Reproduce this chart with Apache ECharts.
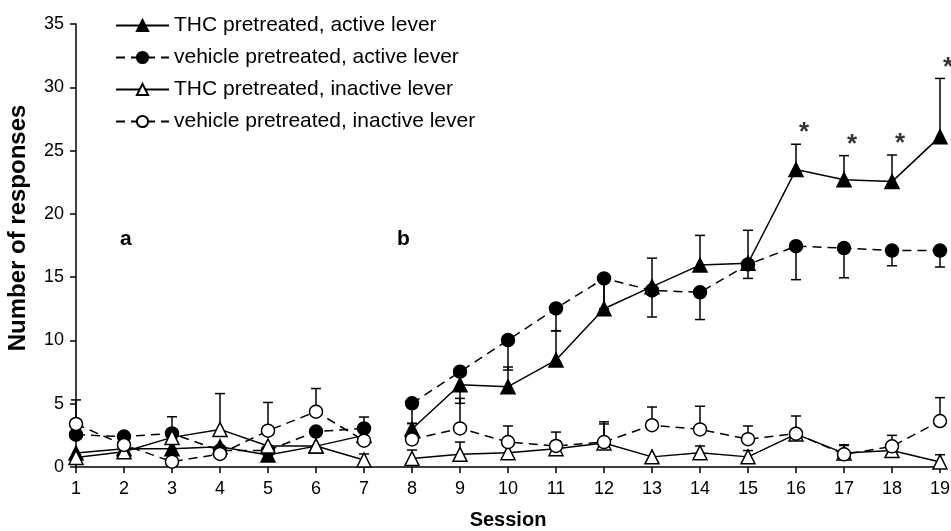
<!DOCTYPE html>
<html>
<head>
<meta charset="utf-8">
<script src="https://cdn.jsdelivr.net/npm/echarts@6/dist/echarts.min.js"></script>
<style>
html, body { margin: 0; padding: 0; background: #fff; }
#chart { width: 951px; height: 531px; }
</style>
</head>
<body>
<div id="chart"></div>
<script>
// sessions 1-7 = phase a, 8-19 = phase b
const sessions = [1, 2, 3, 4, 5, 6, 7, 8, 9, 10, 11, 12, 13, 14, 15, 16, 17, 18, 19];
const gapAfter = 7;

// mean responses; error = SEM, sign gives bar direction (+ up, - down)
const thcActive    = [1.1, 1.45, 1.45, 1.6, 0.95, 1.65, 2.5, 3.0, 6.5, 6.35, 8.45, 12.5, 14.25, 15.95, 16.1, 23.5, 22.7, 22.55, 26.1];
const thcActiveErr = [0, 0, 0, 0, 0, 0, 0, 0.45, 0.8, 1.55, 2.3, 2.4, 2.25, 2.35, 2.6, 2.0, 1.9, 2.1, 4.6];

const vehActive    = [2.55, 2.4, 2.65, 1.3, 1.3, 2.8, 3.05, 5.03, 7.53, 10.03, 12.53, 14.9, 13.95, 13.8, 16.0, 17.45, 17.3, 17.1, 17.1];
const vehActiveErr = [0, 0.3, 0, 0, 0, 0.3, 0.9, -1.6, -2.5, -2.37, -1.76, -2.4, -2.1, -2.15, -1.1, -2.65, -2.35, -1.2, -1.3];

const thcInactive    = [0.76, 1.2, 2.34, 2.97, 1.66, 1.66, 0.55, 0.68, 1.0, 1.13, 1.45, 1.9, 0.8, 1.13, 0.8, 2.6, 1.1, 1.3, 0.4];
const thcInactiveErr = [0, 0, 1.63, 2.83, 0, 0, 0.48, 0.66, 0.97, 0, 0.6, 1.5, 0, 0.53, 0.5, 0, 0.66, 0.36, 0.57];

const vehInactive    = [3.4, 1.74, 0.42, 1.03, 2.87, 4.37, 2.08, 2.18, 3.05, 1.97, 1.66, 1.97, 3.3, 2.97, 2.2, 2.63, 1.0, 1.63, 3.63];
const vehInactiveErr = [1.9, 0, 0, 0, 2.23, 1.83, 0, 0, 2.37, 1.27, 1.1, 1.6, 1.44, 1.83, 1.04, 1.4, 0.7, 0.87, 1.85];

// sessions where THC active differs from vehicle (asterisks)
const sigSessions = [16, 17, 18, 19];

const names = [
    'THC pretreated, active lever',
    'vehicle pretreated, active lever',
    'THC pretreated, inactive lever',
    'vehicle pretreated, inactive lever'
];

const FONT = 'Liberation Sans, Arial, sans-serif';

function toPoints(vals) {
    let pts = [];
    vals.forEach((v, i) => {
        pts.push([sessions[i], v]);
        if (sessions[i] === gapAfter) pts.push([gapAfter + 0.5, '-']);   // break line between phases
    });
    return pts;
}

function lineSeries(name, vals, symbol, filled, dashed) {
    return {
        name: name,
        type: 'line',
        data: toPoints(vals),
        symbol: symbol,
        symbolSize: symbol === 'triangle' ? 14 : 13,
        showAllSymbol: true,
        z: 3,
        lineStyle: { color: '#000', width: 1.5, type: dashed ? [9, 6] : 'solid' },
        itemStyle: { color: filled ? '#000' : '#fff', borderColor: '#000', borderWidth: 1.5 },
        emphasis: { disabled: true }
    };
}

function errorSeries(vals, errs) {
    let data = [];
    sessions.forEach((s, i) => {
        if (errs[i] !== 0) data.push([s, vals[i], vals[i] + errs[i]]);
    });
    return {
        type: 'custom',
        silent: true,
        z: 1,
        encode: { x: 0, y: [1, 2] },
        data: data,
        renderItem(params, api) {
            let p0 = api.coord([api.value(0), api.value(1)]);
            let p1 = api.coord([api.value(0), api.value(2)]);
            let hw = 5;
            let st = { stroke: '#000', lineWidth: 1.5 };
            return {
                type: 'group',
                children: [
                    { type: 'line', shape: { x1: p0[0], y1: p0[1], x2: p1[0], y2: p1[1] }, style: st },
                    { type: 'line', shape: { x1: p1[0] - hw, y1: p1[1], x2: p1[0] + hw, y2: p1[1] }, style: st }
                ]
            };
        }
    };
}

let sigData = sigSessions.map(s => {
    let i = sessions.indexOf(s);
    return [s, thcActive[i] + thcActiveErr[i]];
});

let axisCommon = {
    axisLine: { show: true, lineStyle: { color: '#000', width: 1.5 } },
    axisTick: { show: true, inside: false, length: 6, lineStyle: { color: '#000', width: 1.5 } },
    splitLine: { show: false },
    axisLabel: { color: '#000', fontSize: 18, fontFamily: FONT }
};

let myChart = echarts.init(document.getElementById('chart'), null, { renderer: 'canvas' });
let option = {
    animation: false,
    backgroundColor: '#fff',
    grid: { left: 76, right: 11, top: 24, bottom: 64, outerBoundsMode: 'none' },
    legend: {
        data: names,
        orient: 'vertical',
        left: 110,
        top: 10,
        itemWidth: 53,
        itemHeight: 14,
        itemGap: 11,
        selectedMode: false,
        textStyle: { color: '#000', fontSize: 21, fontFamily: FONT }
    },
    xAxis: Object.assign({}, axisCommon, {
        type: 'value',
        min: 1,
        max: 19,
        interval: 1,
        name: 'Session',
        nameLocation: 'middle',
        nameGap: 43,
        nameTextStyle: { color: '#000', fontSize: 20, fontWeight: 'bold', fontFamily: FONT },
        axisLabel: Object.assign({}, axisCommon.axisLabel, { margin: 13 })
    }),
    yAxis: Object.assign({}, axisCommon, {
        type: 'value',
        min: 0,
        max: 35,
        interval: 5,
        axisLabel: Object.assign({}, axisCommon.axisLabel, { margin: 12 })
    }),
    graphic: [
        {
            type: 'text', x: 18, y: 228, rotation: Math.PI / 2,
            style: { text: 'Number of responses', fontSize: 24, fontWeight: 'bold', fontFamily: FONT, fill: '#000', align: 'center', verticalAlign: 'middle' }
        },
        { type: 'text', left: 120, top: 229, style: { text: 'a', fontSize: 21, fontWeight: 'bold', fontFamily: FONT, fill: '#000' } },
        { type: 'text', left: 397, top: 229, style: { text: 'b', fontSize: 21, fontWeight: 'bold', fontFamily: FONT, fill: '#000' } }
    ],
    series: [
        errorSeries(thcActive, thcActiveErr),
        errorSeries(vehActive, vehActiveErr),
        errorSeries(thcInactive, thcInactiveErr),
        errorSeries(vehInactive, vehInactiveErr),
        lineSeries(names[0], thcActive, 'triangle', true, false),
        lineSeries(names[1], vehActive, 'circle', true, true),
        lineSeries(names[2], thcInactive, 'triangle', false, false),
        lineSeries(names[3], vehInactive, 'circle', false, true),
        {
            type: 'scatter',
            data: sigData,
            symbol: 'circle',
            symbolSize: 2,
            silent: true,
            z: 4,
            itemStyle: { color: 'rgba(0,0,0,0)' },
            label: {
                show: true,
                formatter: '*',
                position: 'top',
                offset: [8, 8],
                color: '#000',
                fontSize: 26,
                fontWeight: 'bold',
                fontFamily: FONT
            }
        }
    ]
};
myChart.setOption(option);
window.onresize = myChart.resize;
</script>
</body>
</html>
